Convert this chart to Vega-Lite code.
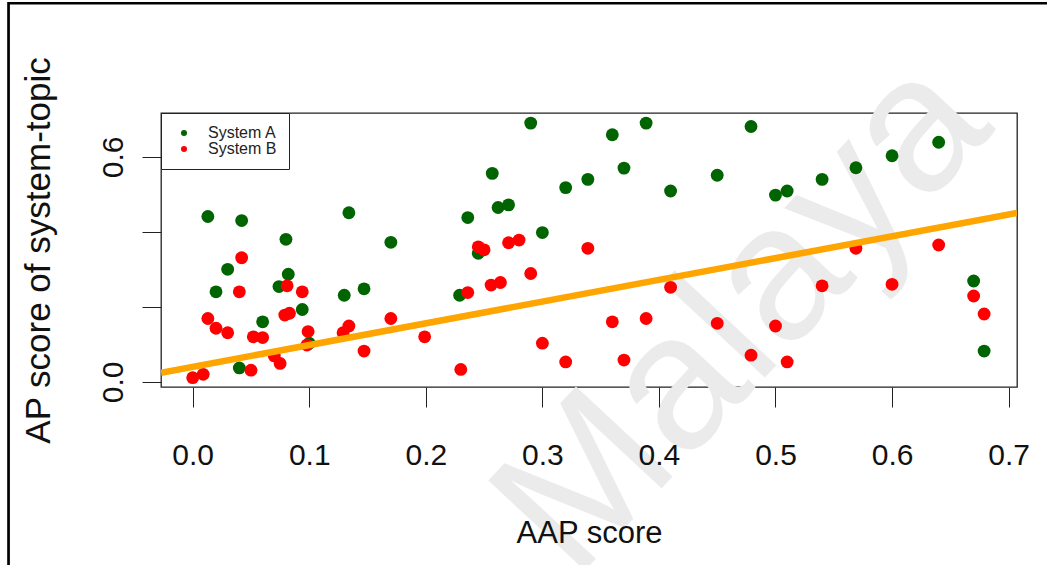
{
  "$schema": "https://vega.github.io/schema/vega-lite/v6.json",
  "width": 856,
  "height": 274,
  "autosize": {"type": "none"},
  "padding": {"left": 161, "top": 113, "right": 30, "bottom": 178},
  "background": "white",
  "config": {
    "font": "Liberation Sans",
    "view": {"stroke": "#222222", "strokeWidth": 1.3}
  },
  "datasets": {
    "scores": [
      {"system": "System A", "aap": 0.013, "ap": 0.441},
      {"system": "System A", "aap": 0.042, "ap": 0.430},
      {"system": "System A", "aap": 0.080, "ap": 0.380},
      {"system": "System A", "aap": 0.030, "ap": 0.300},
      {"system": "System A", "aap": 0.082, "ap": 0.287},
      {"system": "System A", "aap": 0.020, "ap": 0.240},
      {"system": "System A", "aap": 0.074, "ap": 0.254},
      {"system": "System A", "aap": 0.094, "ap": 0.193},
      {"system": "System A", "aap": 0.060, "ap": 0.160},
      {"system": "System A", "aap": 0.040, "ap": 0.037},
      {"system": "System A", "aap": 0.100, "ap": 0.103},
      {"system": "System A", "aap": 0.134, "ap": 0.451},
      {"system": "System A", "aap": 0.170, "ap": 0.372},
      {"system": "System A", "aap": 0.130, "ap": 0.231},
      {"system": "System A", "aap": 0.147, "ap": 0.248},
      {"system": "System A", "aap": 0.257, "ap": 0.556},
      {"system": "System A", "aap": 0.236, "ap": 0.438},
      {"system": "System A", "aap": 0.262, "ap": 0.465},
      {"system": "System A", "aap": 0.271, "ap": 0.472},
      {"system": "System A", "aap": 0.245, "ap": 0.343},
      {"system": "System A", "aap": 0.229, "ap": 0.231},
      {"system": "System A", "aap": 0.290, "ap": 0.690},
      {"system": "System A", "aap": 0.360, "ap": 0.659},
      {"system": "System A", "aap": 0.389, "ap": 0.690},
      {"system": "System A", "aap": 0.370, "ap": 0.570},
      {"system": "System A", "aap": 0.339, "ap": 0.540},
      {"system": "System A", "aap": 0.320, "ap": 0.518},
      {"system": "System A", "aap": 0.410, "ap": 0.509},
      {"system": "System A", "aap": 0.300, "ap": 0.398},
      {"system": "System A", "aap": 0.479, "ap": 0.681},
      {"system": "System A", "aap": 0.450, "ap": 0.551},
      {"system": "System A", "aap": 0.500, "ap": 0.498},
      {"system": "System A", "aap": 0.510, "ap": 0.509},
      {"system": "System A", "aap": 0.540, "ap": 0.540},
      {"system": "System A", "aap": 0.569, "ap": 0.571},
      {"system": "System A", "aap": 0.600, "ap": 0.603},
      {"system": "System A", "aap": 0.640, "ap": 0.639},
      {"system": "System A", "aap": 0.670, "ap": 0.269},
      {"system": "System A", "aap": 0.679, "ap": 0.082},
      {"system": "System B", "aap": 0.042, "ap": 0.331},
      {"system": "System B", "aap": 0.040, "ap": 0.240},
      {"system": "System B", "aap": 0.081, "ap": 0.256},
      {"system": "System B", "aap": 0.094, "ap": 0.240},
      {"system": "System B", "aap": 0.079, "ap": 0.178},
      {"system": "System B", "aap": 0.083, "ap": 0.183},
      {"system": "System B", "aap": 0.013, "ap": 0.169},
      {"system": "System B", "aap": 0.020, "ap": 0.143},
      {"system": "System B", "aap": 0.030, "ap": 0.131},
      {"system": "System B", "aap": 0.052, "ap": 0.120},
      {"system": "System B", "aap": 0.060, "ap": 0.118},
      {"system": "System B", "aap": 0.099, "ap": 0.134},
      {"system": "System B", "aap": 0.098, "ap": 0.098},
      {"system": "System B", "aap": 0.070, "ap": 0.069},
      {"system": "System B", "aap": 0.075, "ap": 0.049},
      {"system": "System B", "aap": 0.050, "ap": 0.031},
      {"system": "System B", "aap": 0.000, "ap": 0.011},
      {"system": "System B", "aap": 0.009, "ap": 0.020},
      {"system": "System B", "aap": 0.134, "ap": 0.149},
      {"system": "System B", "aap": 0.129, "ap": 0.131},
      {"system": "System B", "aap": 0.147, "ap": 0.082},
      {"system": "System B", "aap": 0.170, "ap": 0.169},
      {"system": "System B", "aap": 0.199, "ap": 0.120},
      {"system": "System B", "aap": 0.230, "ap": 0.033},
      {"system": "System B", "aap": 0.245, "ap": 0.360},
      {"system": "System B", "aap": 0.250, "ap": 0.352},
      {"system": "System B", "aap": 0.236, "ap": 0.238},
      {"system": "System B", "aap": 0.256, "ap": 0.258},
      {"system": "System B", "aap": 0.264, "ap": 0.265},
      {"system": "System B", "aap": 0.271, "ap": 0.371},
      {"system": "System B", "aap": 0.280, "ap": 0.378},
      {"system": "System B", "aap": 0.339, "ap": 0.356},
      {"system": "System B", "aap": 0.290, "ap": 0.289},
      {"system": "System B", "aap": 0.410, "ap": 0.252},
      {"system": "System B", "aap": 0.360, "ap": 0.160},
      {"system": "System B", "aap": 0.389, "ap": 0.169},
      {"system": "System B", "aap": 0.300, "ap": 0.103},
      {"system": "System B", "aap": 0.320, "ap": 0.053},
      {"system": "System B", "aap": 0.370, "ap": 0.058},
      {"system": "System B", "aap": 0.450, "ap": 0.156},
      {"system": "System B", "aap": 0.500, "ap": 0.149},
      {"system": "System B", "aap": 0.479, "ap": 0.071},
      {"system": "System B", "aap": 0.510, "ap": 0.053},
      {"system": "System B", "aap": 0.540, "ap": 0.256},
      {"system": "System B", "aap": 0.569, "ap": 0.356},
      {"system": "System B", "aap": 0.640, "ap": 0.365},
      {"system": "System B", "aap": 0.600, "ap": 0.260},
      {"system": "System B", "aap": 0.670, "ap": 0.229},
      {"system": "System B", "aap": 0.679, "ap": 0.181}
    ],
    "fit": [
      {"aap": -0.0272, "ap": 0.0242},
      {"aap": 0.7072, "ap": 0.4502}
    ]
  },
  "layer": [
    {
      "description": "page frame",
      "data": {"values": [{}]},
      "mark": {"type": "rect", "fill": null, "stroke": "#000000", "strokeWidth": 2.7, "clip": false},
      "encoding": {
        "x": {"datum": -0.158, "type": "quantitative"},
        "x2": {"datum": 0.76},
        "y": {"datum": 1.0096, "type": "quantitative"},
        "y2": {"datum": -0.6}
      }
    },
    {
      "description": "watermark",
      "data": {"values": [{}]},
      "mark": {"type": "text", "text": "Malaya", "angle": -47, "fontSize": 192, "color": "#ebebeb", "align": "center", "baseline": "middle"},
      "encoding": {
        "x": {"datum": 0.472, "type": "quantitative"},
        "y": {"datum": 0.175, "type": "quantitative"}
      }
    },
    {
      "data": {"name": "scores"},
      "mark": {"type": "point", "filled": true, "size": 165, "opacity": 1},
      "encoding": {
        "x": {
          "field": "aap",
          "type": "quantitative",
          "scale": {"domain": [-0.0272, 0.7072], "nice": false, "zero": false},
          "axis": {
            "title": "AAP score",
            "values": [0, 0.1, 0.2, 0.3, 0.4, 0.5, 0.6, 0.7],
            "format": ".1f",
            "grid": false,
            "domain": false,
            "tickSize": 20,
            "tickColor": "#222222",
            "labelFontSize": 30,
            "labelColor": "#111111",
            "labelPadding": 33,
            "labelFlush": false,
            "labelOverlap": false,
            "titleFontSize": 31,
            "titleFontWeight": "normal",
            "titleColor": "#111111",
            "titlePadding": 48,
            "zindex": 1
          }
        },
        "y": {
          "field": "ap",
          "type": "quantitative",
          "scale": {"domain": [-0.0138, 0.7169], "nice": false, "zero": false},
          "axis": {
            "title": "AP score of system-topic",
            "values": [0, 0.1, 0.2, 0.3, 0.4, 0.5, 0.6, 0.7],
            "labelExpr": "(round(datum.value * 10) % 3 == 0) ? format(datum.value, '.1f') : ''",
            "grid": false,
            "domain": false,
            "tickSize": 19,
            "tickColor": "#222222",
            "labelAngle": -90,
            "labelAlign": "center",
            "labelBaseline": "bottom",
            "labelFontSize": 30,
            "labelColor": "#111111",
            "labelPadding": 14,
            "labelFlush": false,
            "labelOverlap": false,
            "titleFontSize": 35,
            "titleFontWeight": "normal",
            "titleColor": "#111111",
            "titlePadding": 42,
            "zindex": 1
          }
        },
        "color": {
          "field": "system",
          "type": "nominal",
          "scale": {"domain": ["System A", "System B"], "range": ["#006400", "#ff0000"]},
          "legend": {
            "title": null,
            "orient": "top-left",
            "offset": 0,
            "strokeColor": "#222222",
            "fillColor": "white",
            "padding": 12,
            "symbolType": "circle",
            "symbolSize": 36,
            "symbolOffset": 3,
            "symbolStrokeWidth": 0,
            "labelOffset": 16,
            "labelFontSize": 16,
            "labelColor": "#222222",
            "rowPadding": 0
          }
        }
      }
    },
    {
      "data": {"name": "fit"},
      "mark": {"type": "line", "color": "#ffa500", "strokeWidth": 6.5, "clip": true},
      "encoding": {
        "x": {"field": "aap", "type": "quantitative"},
        "y": {"field": "ap", "type": "quantitative"}
      }
    }
  ]
}
